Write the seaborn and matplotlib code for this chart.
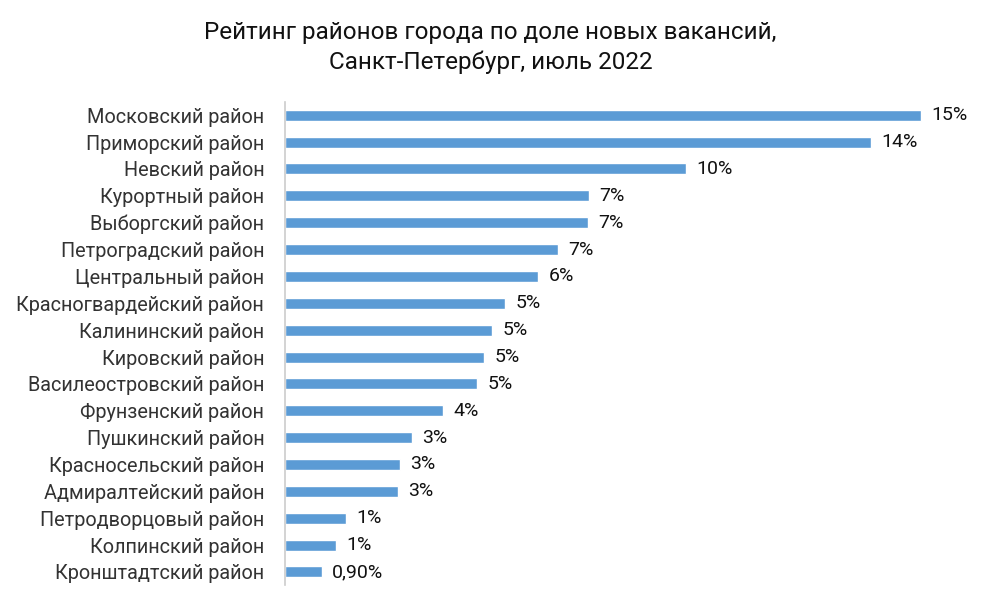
import pandas as pd
import seaborn as sns
import matplotlib.pyplot as plt

districts = [
    'Московский район', 'Приморский район', 'Невский район', 'Курортный район',
    'Выборгский район', 'Петроградский район', 'Центральный район',
    'Красногвардейский район', 'Калининский район', 'Кировский район',
    'Василеостровский район', 'Фрунзенский район', 'Пушкинский район',
    'Красносельский район', 'Адмиралтейский район', 'Петродворцовый район',
    'Колпинский район', 'Кронштадтский район',
]
shares = [15.33, 14.12, 9.66, 7.33, 7.30, 6.58, 6.10, 5.30, 4.99, 4.80,
          4.63, 3.81, 3.06, 2.77, 2.72, 1.47, 1.23, 0.89]
share_labels = ['15%', '14%', '10%', '7%', '7%', '7%', '6%', '5%', '5%', '5%',
                '5%', '4%', '3%', '3%', '3%', '1%', '1%', '0,90%']

df = pd.DataFrame({'district': districts, 'share': shares})

sns.set_theme(style='white')
plt.rcParams['font.family'] = ['Roboto', 'DejaVu Sans']

fig = plt.figure(figsize=(9.81, 6.09), dpi=100)
ax = fig.add_axes([285 / 981, 0.0388, 675 / 981, 0.794])

sns.barplot(data=df, x='share', y='district', color='#5B9BD5', width=0.41,
            saturation=1, ax=ax)
ax.set_xlim(0, 16.27)
ax.set_xlabel('')
ax.set_ylabel('')
ax.set_xticks([])
ax.tick_params(axis='y', length=0, pad=15, labelsize=14.3, labelcolor='#333333')

for i, (v, lab) in enumerate(zip(shares, share_labels)):
    ax.text(v + 0.25, i, lab, va='center', ha='left', fontsize=14, color='#111111')

for s in ['top', 'right', 'bottom']:
    ax.spines[s].set_visible(False)
ax.spines['left'].set_color('#cccccc')
ax.spines['left'].set_linewidth(1.2)

fig.text(0.5, 0.946, 'Рейтинг районов города по доле новых вакансий,',
         ha='center', va='center', fontsize=17.5, color='#111111')
fig.text(0.5, 0.897, 'Санкт-Петербург, июль 2022',
         ha='center', va='center', fontsize=17.5, color='#111111')

plt.savefig('out.png', dpi=100)
plt.close()
